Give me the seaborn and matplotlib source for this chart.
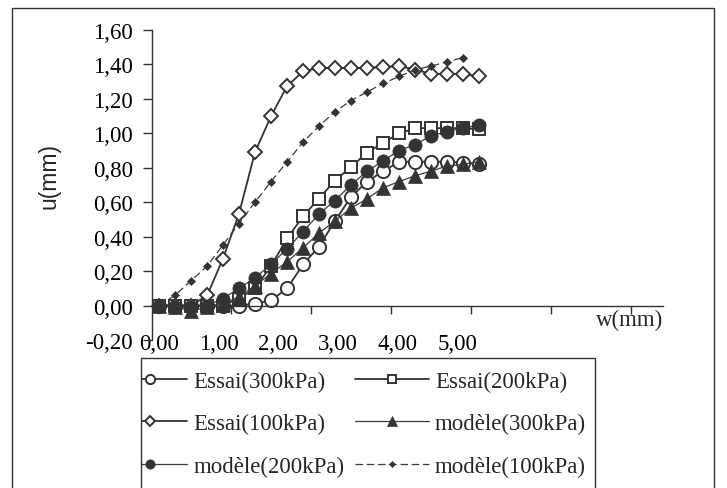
import numpy as np
import pandas as pd
import matplotlib
matplotlib.use("Agg")
import matplotlib.pyplot as plt
from matplotlib.patches import Rectangle
import seaborn as sns

# Displacement w (mm) at each measurement step
w = [0.00, 0.27, 0.54, 0.81, 1.07, 1.34, 1.61, 1.88, 2.15, 2.42, 2.68,
     2.95, 3.22, 3.49, 3.76, 4.03, 4.30, 4.56, 4.83, 5.10, 5.37]

# Measured (Essai) and modelled (modèle) u (mm) for each normal stress
essai_300 = [0.00, 0.00, 0.00, 0.00, 0.00, 0.00, 0.01, 0.03, 0.10, 0.24, 0.34,
             0.49, 0.63, 0.72, 0.78, 0.835, 0.835, 0.835, 0.835, 0.83, 0.82]
essai_200 = [0.00, 0.00, 0.00, 0.00, 0.00, 0.04, 0.10, 0.23, 0.39, 0.52, 0.62,
             0.725, 0.805, 0.887, 0.945, 1.00, 1.03, 1.03, 1.03, 1.03, 1.025]
essai_100 = [0.00, 0.00, 0.00, 0.06, 0.27, 0.53, 0.89, 1.10, 1.275, 1.36, 1.38,
             1.38, 1.38, 1.38, 1.385, 1.39, 1.37, 1.345, 1.345, 1.345, 1.33]
modele_300 = [0.00, -0.01, -0.03, -0.01, 0.01, 0.05, 0.115, 0.185, 0.255, 0.336, 0.42,
              0.49, 0.565, 0.62, 0.684, 0.72, 0.754, 0.78, 0.81, 0.82, 0.835]
modele_200 = [0.00, -0.01, -0.01, 0.00, 0.04, 0.10, 0.16, 0.24, 0.33, 0.43, 0.53,
              0.61, 0.70, 0.78, 0.84, 0.90, 0.935, 0.985, 1.01, 1.03, 1.05]
modele_100 = [0.00, 0.06, 0.145, 0.23, 0.35, 0.475, 0.60, 0.72, 0.835, 0.95, 1.04,
              1.125, 1.19, 1.24, 1.29, 1.33, 1.37, 1.39, 1.415, 1.44, np.nan]

series_names = ["Essai(300kPa)", "Essai(200kPa)", "Essai(100kPa)",
                "modèle(300kPa)", "modèle(200kPa)", "modèle(100kPa)"]
series_values = [essai_300, essai_200, essai_100, modele_300, modele_200, modele_100]

x_tick_labels = [0, 1, 2, 3, 4, 5]
y_ticks = [-0.20, 0.00, 0.20, 0.40, 0.60, 0.80, 1.00, 1.20, 1.40, 1.60]

df = pd.concat(
    [pd.DataFrame({"w": w, "u": vals, "serie": name})
     for name, vals in zip(series_names, series_values)],
    ignore_index=True,
).dropna()

sns.set_style("ticks")
serif = ["Liberation Serif", "DejaVu Serif"]
plt.rcParams["font.family"] = serif
FS = 16.5
DARK = "#333333"

styles = {
    "Essai(300kPa)": dict(marker="o", ms=9.5, mfc="white", mec=DARK, mew=1.4,
                          color=DARK, lw=1.3, ls="-"),
    "Essai(200kPa)": dict(marker="s", ms=9.0, mfc="white", mec=DARK, mew=1.4,
                          color=DARK, lw=1.3, ls="-"),
    "Essai(100kPa)": dict(marker="D", ms=7.6, mfc="white", mec=DARK, mew=1.4,
                          color=DARK, lw=1.3, ls="-"),
    "modèle(300kPa)": dict(marker="^", ms=10.0, mfc=DARK, mec=DARK, mew=0.5,
                           color="#3c3c3c", lw=0.9, ls="-"),
    "modèle(200kPa)": dict(marker="o", ms=9.5, mfc=DARK, mec=DARK, mew=0.5,
                           color="#3c3c3c", lw=0.9, ls="-"),
    "modèle(100kPa)": dict(marker="D", ms=4.3, mfc=DARK, mec=DARK, mew=0.5,
                           color="#3c3c3c", lw=0.9, ls=(0, (6, 3))),
}

fig = plt.figure(figsize=(7.27, 4.89), dpi=100)
W, H = 727, 489
ax = fig.add_axes([152 / W, 1 - 341 / H, (663 - 152) / W, 310 / H])

handles = []
for name in series_names:
    st = styles[name]
    sub = df[df["serie"] == name]
    sns.lineplot(data=sub, x="w", y="u", ax=ax, legend=False, errorbar=None,
                 sort=False, color=st["color"], linewidth=st["lw"],
                 linestyle=st["ls"], marker=st["marker"], markersize=st["ms"],
                 markerfacecolor=st["mfc"], markeredgecolor=st["mec"],
                 markeredgewidth=st["mew"], clip_on=False)
    handles.append(ax.lines[-1])

# axes layout
ax.set_xlim(-0.1174, 8.456)
ax.set_ylim(-0.2, 1.6)
ax.set_xlabel("")
ax.set_ylabel("u(mm)", fontsize=FS, family=["Liberation Sans", "DejaVu Sans"])
ax.yaxis.set_label_coords((60 - 152) / 511, (341 - 176) / 310)

for side in ("top", "right"):
    ax.spines[side].set_visible(False)
ax.spines["bottom"].set_position(("data", 0))
for side in ("left", "bottom"):
    ax.spines[side].set_color(DARK)
    ax.spines[side].set_linewidth(1.0)

ax.set_yticks(y_ticks)
ax.set_yticklabels([f"{v:.2f}".replace(".", ",") for v in y_ticks], fontsize=FS)
ax.tick_params(axis="y", direction="out", length=6.5, width=1.0, color=DARK,
               pad=7, labelcolor="black")

ax.set_xticks(x_tick_labels)
ax.set_xticklabels([f"{v:.2f}".replace(".", ",") for v in x_tick_labels], fontsize=FS)
ax.tick_params(axis="x", which="major", length=0, pad=19.5, labelcolor="black")
ax.set_xticks([1.208, 2.550, 3.893, 5.235, 6.577, 7.919], minor=True)
ax.tick_params(axis="x", which="minor", direction="out", length=6, width=1.0,
               color=DARK)

ax.text(8.456, -0.02, "w(mm)", ha="right", va="top", fontsize=FS)

# legend, row-major order
order = [0, 2, 4, 1, 3, 5]
leg = fig.legend([handles[i] for i in order], [series_names[i] for i in order],
                 ncol=2, loc="upper left", bbox_to_anchor=(113 / W, 1 - 372 / H),
                 frameon=False, borderpad=0, borderaxespad=0,
                 handlelength=3.25, handletextpad=0.25, columnspacing=0.45,
                 labelspacing=0.92, markerscale=0.7, prop={"size": FS})

# legend box (handles of the first column start under its left edge)
fig.add_artist(Rectangle((95 / W, -0.05), (141 - 95) / W, 1 - 359 / H + 0.05,
                         transform=fig.transFigure, facecolor="white",
                         edgecolor="none", zorder=10))
fig.add_artist(Rectangle((141 / W, -0.05), (595 - 141) / W, 1 - 359 / H + 0.05,
                         transform=fig.transFigure, fill=False,
                         edgecolor=DARK, linewidth=1.0, zorder=11))
# chart area border
fig.add_artist(Rectangle((12 / W, -0.05), (714 - 12) / W, 1 - 9 / H + 0.05,
                         transform=fig.transFigure, fill=False,
                         edgecolor=DARK, linewidth=1.0, zorder=11))

fig.savefig("out.png", dpi=100, facecolor="white")
